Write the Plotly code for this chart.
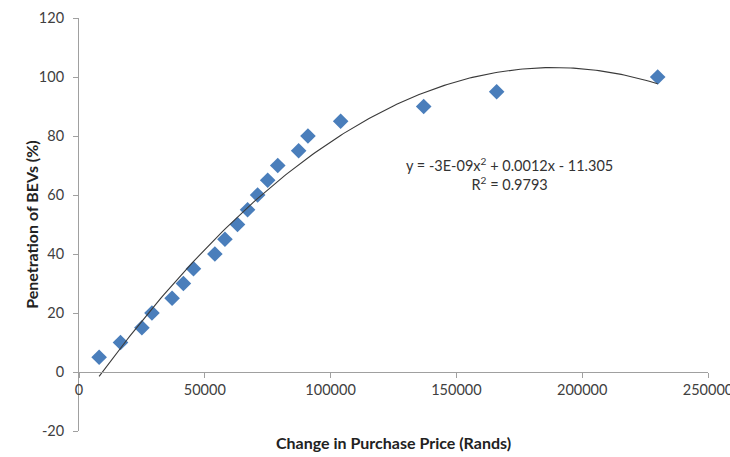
import numpy as np
import plotly.graph_objects as go

# price change (Rands) vs BEV penetration (%)
price_change = [8000, 16500, 25000, 29000, 37000, 41500, 45500, 54000, 58000,
                63000, 67000, 71000, 75000, 79000, 87300, 91000, 104000,
                137000, 166000, 230000]
penetration = [5, 10, 15, 20, 25, 30, 35, 40, 45, 50, 55, 60, 65, 70, 75, 80,
               85, 90, 95, 100]

x_ticks = [0, 50000, 100000, 150000, 200000, 250000]
y_ticks = [-20, 0, 20, 40, 60, 80, 100, 120]

# 2nd order polynomial trendline (as excel does it)
coef = np.polyfit(price_change, penetration, 2)
xs = np.linspace(min(price_change), max(price_change), 200)
ys = np.polyval(coef, xs)

font_fam = "Lato, 'Open Sans', sans-serif"

fig = go.Figure()
fig.add_trace(go.Scatter(x=price_change, y=penetration, mode="markers",
                         marker=dict(symbol="diamond", size=12, color="#4a7ebb",
                                     line=dict(width=0)),
                         showlegend=False))
fig.add_trace(go.Scatter(x=xs, y=ys, mode="lines",
                         line=dict(color="#3a3a3a", width=1.1),
                         showlegend=False))

fig.update_layout(
    width=730, height=457,
    margin=dict(l=79, r=22, t=18, b=26),
    plot_bgcolor="#FFF",
    paper_bgcolor="#FFF",
    font=dict(family=font_fam, size=14.5, color="#404040"),
    xaxis=dict(
        range=[0, 250000],
        tickvals=x_ticks,
        ticktext=[str(v) for v in x_ticks],
        showgrid=False, zeroline=False, automargin=False,
        showline=True, linecolor="#a0a0a0", linewidth=1,
        ticks="outside", ticklen=5, tickcolor="#a0a0a0",
        ticklabeloverflow="allow",
        anchor="free", position=20 / 140,
    ),
    yaxis=dict(
        range=[-20, 120],
        tickvals=y_ticks,
        ticktext=[str(v) for v in y_ticks],
        showgrid=False, zeroline=False, automargin=False,
        showline=True, linecolor="#a0a0a0", linewidth=1,
        ticks="outside", ticklen=5, tickcolor="#a0a0a0",
        ticklabelstandoff=6,
    ),
)

# axis titles
fig.add_annotation(text="<b>Change in Purchase Price (Rands)</b>", xref="paper", yref="paper",
                   x=0.5, y=0.0, yanchor="top", showarrow=False,
                   font=dict(size=16, color="#222"))
fig.add_annotation(text="<b>Penetration of BEVs (%)</b>", xref="paper", yref="paper",
                   x=-0.094, y=0.5, textangle=-90, showarrow=False,
                   font=dict(size=16, color="#222"))

# trendline equation
fig.add_annotation(text="y = -3E-09x<sup>2</sup> + 0.0012x - 11.305<br>R<sup>2</sup> = 0.9793",
                   x=171000, y=67, showarrow=False, align="center",
                   font=dict(size=14.5, color="#333"))

fig.write_html("out.html", config={"displayModeBar": False},
               post_script="document.body.style.margin='0';")
